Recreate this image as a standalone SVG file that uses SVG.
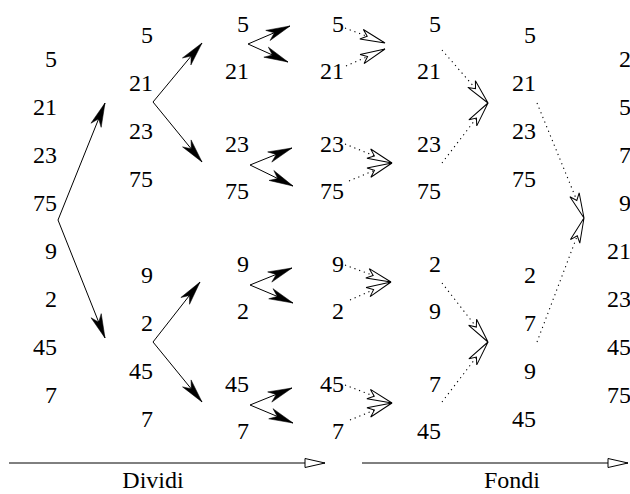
<svg xmlns="http://www.w3.org/2000/svg" width="630" height="494" viewBox="0 0 630 494">
  <style>
    .n { font-family: "Liberation Serif", "Times New Roman", serif; font-size: 24px; text-anchor: end; fill: #000; }
    .lbl { font-family: "Liberation Serif", "Times New Roman", serif; font-size: 24px; text-anchor: middle; fill: #000; }
    .split { fill: none; stroke: #000; stroke-width: 1; marker-end: url(#solidHead); }
    .merge { fill: none; stroke: #000; stroke-width: 1.1; stroke-dasharray: 1.2 3.8; marker-end: url(#openHead); }
    .axis { fill: none; stroke: #000; stroke-width: 1; marker-end: url(#axisHead); }
  </style>
  <defs>
    <marker id="solidHead" markerUnits="userSpaceOnUse" orient="auto" refX="0" refY="0"
            viewBox="-26 -8 28 16" markerWidth="28" markerHeight="16" overflow="visible">
      <path d="M0,0 L-24,-5.5 L-17,0 L-24,5.5 Z" fill="#000" stroke="#000" stroke-width="0.5"/>
    </marker>
    <marker id="openHead" markerUnits="userSpaceOnUse" orient="auto" refX="0" refY="0"
            viewBox="-28 -8 30 16" markerWidth="30" markerHeight="16" overflow="visible">
      <path d="M0,0 L-25,-5 L-19,0 L-25,5 Z" fill="#fff" stroke="#000" stroke-width="1"/>
    </marker>
    <marker id="axisHead" markerUnits="userSpaceOnUse" orient="auto" refX="0" refY="0"
            viewBox="-22 -6 24 12" markerWidth="24" markerHeight="12" overflow="visible">
      <path d="M0,0 L-20,-4.5 L-20,4.5 Z" fill="#fff" stroke="#000" stroke-width="1"/>
    </marker>
  </defs>

  <!-- starting array -->
  <g id="col1">
    <text class="n" x="57" y="67">5</text>
    <text class="n" x="57" y="115">21</text>
    <text class="n" x="57" y="163">23</text>
    <text class="n" x="57" y="211">75</text>
    <text class="n" x="57" y="259">9</text>
    <text class="n" x="57" y="307">2</text>
    <text class="n" x="57" y="355">45</text>
    <text class="n" x="57" y="403">7</text>
  </g>

  <!-- halves -->
  <g id="col2-top">
    <text class="n" x="153" y="43">5</text>
    <text class="n" x="153" y="91">21</text>
    <text class="n" x="153" y="139">23</text>
    <text class="n" x="153" y="187">75</text>
  </g>
  <g id="col2-bottom">
    <text class="n" x="153" y="283">9</text>
    <text class="n" x="153" y="331">2</text>
    <text class="n" x="153" y="379">45</text>
    <text class="n" x="153" y="427">7</text>
  </g>

  <!-- pairs after splitting -->
  <g id="col3-a"><text class="n" x="249" y="32">5</text><text class="n" x="249" y="79">21</text></g>
  <g id="col3-b"><text class="n" x="249" y="152">23</text><text class="n" x="249" y="199">75</text></g>
  <g id="col3-c"><text class="n" x="249" y="272">9</text><text class="n" x="249" y="319">2</text></g>
  <g id="col3-d"><text class="n" x="249" y="392">45</text><text class="n" x="249" y="439">7</text></g>

  <!-- single elements -->
  <g id="col4-a"><text class="n" x="344" y="32">5</text><text class="n" x="344" y="79">21</text></g>
  <g id="col4-b"><text class="n" x="344" y="152">23</text><text class="n" x="344" y="199">75</text></g>
  <g id="col4-c"><text class="n" x="344" y="272">9</text><text class="n" x="344" y="319">2</text></g>
  <g id="col4-d"><text class="n" x="344" y="392">45</text><text class="n" x="344" y="439">7</text></g>

  <!-- merged pairs -->
  <g id="col5-top">
    <text class="n" x="441" y="32">5</text>
    <text class="n" x="441" y="79">21</text>
    <text class="n" x="441" y="152">23</text>
    <text class="n" x="441" y="199">75</text>
  </g>
  <g id="col5-bottom">
    <text class="n" x="441" y="272">2</text>
    <text class="n" x="441" y="319">9</text>
    <text class="n" x="441" y="392">7</text>
    <text class="n" x="441" y="439">45</text>
  </g>

  <!-- merged halves -->
  <g id="col6-top">
    <text class="n" x="536" y="43">5</text>
    <text class="n" x="536" y="91">21</text>
    <text class="n" x="536" y="139">23</text>
    <text class="n" x="536" y="187">75</text>
  </g>
  <g id="col6-bottom">
    <text class="n" x="536" y="283">2</text>
    <text class="n" x="536" y="331">7</text>
    <text class="n" x="536" y="379">9</text>
    <text class="n" x="536" y="427">45</text>
  </g>

  <!-- sorted array -->
  <g id="col7">
    <text class="n" x="631" y="67">2</text>
    <text class="n" x="631" y="115">5</text>
    <text class="n" x="631" y="163">7</text>
    <text class="n" x="631" y="211">9</text>
    <text class="n" x="631" y="259">21</text>
    <text class="n" x="631" y="307">23</text>
    <text class="n" x="631" y="355">45</text>
    <text class="n" x="631" y="403">75</text>
  </g>

  <g id="connectors">
    <!-- divide -->
    <path class="split" d="M58,220 L105,103"/>
    <path class="split" d="M58,220 L105,338"/>
    <path class="split" d="M153,102 L202,43"/>
    <path class="split" d="M153,102 L202,162"/>
    <path class="split" d="M153,342 L200,282"/>
    <path class="split" d="M153,342 L202,402"/>
    <path class="split" d="M248,44 L290,26"/>
    <path class="split" d="M248,44 L288,62"/>
    <path class="split" d="M250,165 L292,148"/>
    <path class="split" d="M250,165 L293,186"/>
    <path class="split" d="M250,285 L292,268"/>
    <path class="split" d="M250,285 L293,303"/>
    <path class="split" d="M250,405 L292,388"/>
    <path class="split" d="M250,405 L293,423"/>
    <!-- merge -->
    <path class="merge" d="M345,28 L385,43"/>
    <path class="merge" d="M346,66 L385,49"/>
    <path class="merge" d="M345,144 L392,163"/>
    <path class="merge" d="M349,181 L392,163"/>
    <path class="merge" d="M345,265 L391,282"/>
    <path class="merge" d="M350,300 L391,282"/>
    <path class="merge" d="M345,385 L392,403"/>
    <path class="merge" d="M350,420 L392,403"/>
    <path class="merge" d="M442,50 L488,103"/>
    <path class="merge" d="M442,163 L488,103"/>
    <path class="merge" d="M442,283 L488,342"/>
    <path class="merge" d="M442,402 L488,342"/>
    <path class="merge" d="M537,103 L584,218"/>
    <path class="merge" d="M537,342 L584,218"/>
  </g>

  <g id="phase-axes">
    <path class="axis" d="M9,463 L325,463"/>
    <path class="axis" d="M362,463 L628,463"/>
  </g>
  <g id="label-dividi"><text class="lbl" x="153" y="488">Dividi</text></g>
  <g id="label-fondi"><text class="lbl" x="512" y="488">Fondi</text></g>
</svg>
